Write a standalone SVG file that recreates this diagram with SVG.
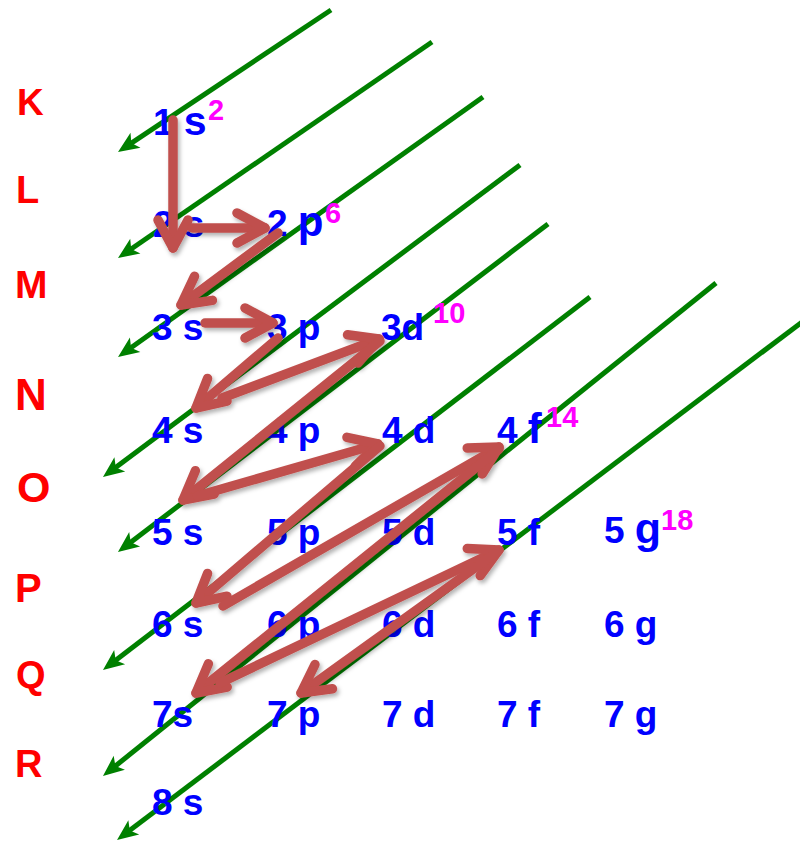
<svg xmlns="http://www.w3.org/2000/svg" width="800" height="842" viewBox="0 0 800 842">
<style>
.diag{stroke:#008000;stroke-width:5;fill:none;marker-end:url(#gh)}
.arr{stroke:#C0504D;stroke-width:9.5;fill:none;stroke-linecap:round;stroke-linejoin:round;marker-end:url(#bh)}
.shell{font-family:"Liberation Sans",Arial,sans-serif;font-weight:bold;fill:#FF0000}
.orb{font-family:"Liberation Sans",Arial,sans-serif;font-weight:bold;fill:#0000FF;font-size:37px}
.sup{font-family:"Liberation Sans",Arial,sans-serif;font-weight:bold;fill:#FF00FF;font-size:29px}
</style>
<defs>
<marker id="gh" markerUnits="userSpaceOnUse" orient="auto" viewBox="-24 -12 36 24" markerWidth="36" markerHeight="24" refX="-12" refY="0" overflow="visible">
<path d="M0,0 L-21,-9 L-16,0 L-21,9 Z" fill="#008000"/>
</marker>
<marker id="bh" markerUnits="userSpaceOnUse" orient="auto" viewBox="-40 -22 50 44" markerWidth="50" markerHeight="44" refX="0" refY="0" overflow="visible">
<path d="M-28,-15 L0,0 L-28,15" fill="none" stroke="#C0504D" stroke-width="9.5" stroke-linecap="round" stroke-linejoin="round"/>
</marker>
<filter id="sh" x="-10%" y="-10%" width="130%" height="130%">
<feDropShadow dx="2" dy="3" stdDeviation="2" flood-color="#000" flood-opacity="0.3"/>
</filter>
</defs>
<rect width="800" height="842" fill="#FFFFFF"/>
<g id="diagonals">
<line class="diag" x1="331" y1="10" x2="128" y2="145.3"/>
<line class="diag" x1="432" y1="42" x2="127.9" y2="251.2"/>
<line class="diag" x1="483" y1="97" x2="127.8" y2="350"/>
<line class="diag" x1="520" y1="165" x2="112.6" y2="469.8"/>
<line class="diag" x1="548" y1="224" x2="127.5" y2="544.7"/>
<line class="diag" x1="590" y1="297" x2="112.5" y2="662.7"/>
<line class="diag" x1="716" y1="283" x2="112.3" y2="768.5"/>
<line class="diag" x1="802" y1="322" x2="126.6" y2="832.8"/>
</g>
<g id="shells">
<g id="shell-K"><text class="shell" x="17" y="115" font-size="37">K</text></g>
<g id="shell-L"><text class="shell" x="16" y="203" font-size="38">L</text></g>
<g id="shell-M"><text class="shell" x="15" y="298" font-size="39">M</text></g>
<g id="shell-N"><text class="shell" x="15" y="410" font-size="44">N</text></g>
<g id="shell-O"><text class="shell" x="17" y="502" font-size="43">O</text></g>
<g id="shell-P"><text class="shell" x="15" y="602" font-size="40">P</text></g>
<g id="shell-Q"><text class="shell" x="16" y="688" font-size="38">Q</text></g>
<g id="shell-R"><text class="shell" x="15" y="777" font-size="38">R</text></g>
</g>
<g id="orbitals">
<g id="o1s"><text class="orb" x="153" y="135">1 <tspan font-size="41">s</tspan></text><text class="sup" x="208" y="120">2</text></g>
<g id="o2s"><text class="orb" x="153" y="237">2 s</text></g>
<g id="o2p"><text class="orb" x="267" y="236">2 <tspan font-size="42">p</tspan></text><text class="sup" x="325" y="223">6</text></g>
<g id="o3s"><text class="orb" x="152" y="340">3 s</text></g>
<g id="o3p"><text class="orb" x="267" y="340">3 p</text></g>
<g id="o3d"><text class="orb" x="381" y="340" font-size="40">3d</text><text class="sup" x="433" y="323">10</text></g>
<g id="o4s"><text class="orb" x="152" y="443">4 s</text></g>
<g id="o4p"><text class="orb" x="267" y="443">4 p</text></g>
<g id="o4d"><text class="orb" x="382" y="443">4 d</text></g>
<g id="o4f"><text class="orb" x="497" y="443">4 <tspan font-size="42">f</tspan></text><text class="sup" x="546" y="427">14</text></g>
<g id="o5s"><text class="orb" x="152" y="545">5 s</text></g>
<g id="o5p"><text class="orb" x="267" y="545">5 p</text></g>
<g id="o5d"><text class="orb" x="382" y="545">5 d</text></g>
<g id="o5f"><text class="orb" x="497" y="545">5 f</text></g>
<g id="o5g"><text class="orb" x="604" y="543">5 <tspan font-size="43">g</tspan></text><text class="sup" x="661" y="530">18</text></g>
<g id="o6s"><text class="orb" x="152" y="637">6 s</text></g>
<g id="o6p"><text class="orb" x="267" y="637">6 p</text></g>
<g id="o6d"><text class="orb" x="382" y="637">6 d</text></g>
<g id="o6f"><text class="orb" x="497" y="637">6 f</text></g>
<g id="o6g"><text class="orb" x="604" y="637">6 g</text></g>
<g id="o7s"><text class="orb" x="152" y="727">7s</text></g>
<g id="o7p"><text class="orb" x="267" y="727">7 p</text></g>
<g id="o7d"><text class="orb" x="382" y="727">7 d</text></g>
<g id="o7f"><text class="orb" x="497" y="727">7 f</text></g>
<g id="o7g"><text class="orb" x="604" y="727">7 g</text></g>
<g id="o8s"><text class="orb" x="152" y="815">8 s</text></g>
</g>
<g id="connectors" filter="url(#sh)">
<path class="arr" d="M173,120 L173,248"/>
<path class="arr" d="M192,228 L265,228"/>
<path class="arr" d="M278,233 L181,305"/>
<path class="arr" d="M205,323 L273,323"/>
<path class="arr" d="M278,338 L196,408"/>
<path class="arr" d="M222,398 L379,339"/>
<path class="arr" d="M380,341 L183,500"/>
<path class="arr" d="M197,496 L378,444"/>
<path class="arr" d="M380,446 L196,603"/>
<path class="arr" d="M223,606 L499,447"/>
<path class="arr" d="M499,449 L196,693"/>
<path class="arr" d="M220,683 L499,550"/>
<path class="arr" d="M497,552 L301,693"/>
</g>
</svg>
